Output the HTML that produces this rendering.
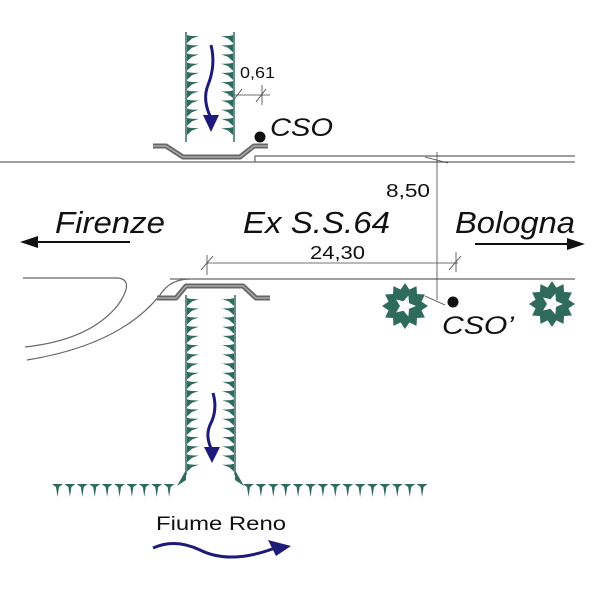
<!DOCTYPE html>
<html><head><style>body{margin:0;background:#fff}svg{display:block}</style></head><body>
<svg width="600" height="600" xmlns="http://www.w3.org/2000/svg" font-family="Liberation Sans, sans-serif">
<g fill="none" stroke="#666" stroke-width="1.2">
<line x1="0" y1="162" x2="575" y2="162"/>
<polyline points="255,162 255,156 575,156"/>
<line x1="170" y1="279" x2="575" y2="279"/>
<path d="M23,278 L118,278 Q135,280 118,305 Q90,340 25,347"/>
<path d="M190,279 Q170,279 160,295 Q120,345 27,360"/>
</g>
<g stroke="#444" stroke-width="0.8" fill="none">
<line x1="437" y1="152" x2="437" y2="300"/>
<line x1="207" y1="263" x2="458" y2="263"/>
<line x1="207" y1="255" x2="207" y2="275"/>
<line x1="456" y1="252" x2="456" y2="272"/>
<line x1="201" y1="270" x2="213" y2="256"/><line x1="449" y1="270" x2="461" y2="256"/>
<line x1="425" y1="157" x2="448" y2="163"/>
<line x1="425" y1="296" x2="445" y2="305"/>
<line x1="228" y1="95" x2="270" y2="95"/>
<line x1="262" y1="85" x2="262" y2="105"/>
<line x1="232" y1="102" x2="242" y2="89"/><line x1="256" y1="102" x2="266" y2="89"/>
</g>
<g fill="none" stroke-linejoin="round">
<polyline points="153,146 166,146 183,157 240,157 254,146 268,146" stroke="#666" stroke-width="5"/>
<polyline points="153,146 166,146 183,157 240,157 254,146 268,146" stroke="#aaa" stroke-width="1.5"/>
<polyline points="157,298 176,298 186,286 243,286 256,298 270,298" stroke="#666" stroke-width="5"/>
<polyline points="157,298 176,298 186,286 243,286 256,298 270,298" stroke="#aaa" stroke-width="1.5"/>
</g>
<g stroke="#2e6b5c" stroke-width="1.5">
<line x1="186" y1="32" x2="186" y2="142"/><line x1="234" y1="32" x2="234" y2="142"/>
<line x1="186" y1="295" x2="186" y2="475"/><line x1="235" y1="295" x2="235" y2="475"/>
</g>
<g fill="#2e6b5c" id="teeth"></g>
<g fill="none" stroke="#1e1a7a" stroke-width="3">
<path d="M211,45 Q216,65 208,85 Q202,100 211,118"/>
<path d="M213,393 Q218,410 210,425 Q205,437 212,450"/>
<path d="M153,548 Q175,538 200,550 Q230,565 275,548"/>
</g>
<g fill="#1e1a7a">
<path d="M203,115 L219,115 L211,132 Z"/>
<path d="M204,447 L220,447 L212,463 Z"/>
<path d="M268,540 L291,546 L276,556 Z"/>
</g>
<g fill="#111">
<path d="M130,241 L38,241 L38,236 L20,242 L38,248 L38,243 L130,243 Z"/>
<path d="M475,243 L567,243 L567,238 L585,244 L567,250 L567,245 L475,245 Z"/>
<circle cx="260" cy="137" r="5.5"/><circle cx="453" cy="302" r="5.5"/>
</g>
<g id="bushes"></g>
<g fill="#111" font-style="italic">
<text x="55" y="233" font-size="31" textLength="110" lengthAdjust="spacingAndGlyphs">Firenze</text>
<text x="243" y="233" font-size="31" textLength="147" lengthAdjust="spacingAndGlyphs">Ex S.S.64</text>
<text x="455" y="233" font-size="31" textLength="120" lengthAdjust="spacingAndGlyphs">Bologna</text>
<text x="270" y="136" font-size="25" textLength="63" lengthAdjust="spacingAndGlyphs">CSO</text>
<text x="442" y="334" font-size="25" textLength="72" lengthAdjust="spacingAndGlyphs">CSO’</text>
</g>
<g fill="#111" font-size="18">
<text x="386" y="197" textLength="44" lengthAdjust="spacingAndGlyphs">8,50</text>
<text x="310" y="259" textLength="55" lengthAdjust="spacingAndGlyphs">24,30</text>
<text x="240" y="78" font-size="16" textLength="35" lengthAdjust="spacingAndGlyphs">0,61</text>
<text x="156" y="530" font-size="19" textLength="130" lengthAdjust="spacingAndGlyphs">Fiume Reno</text>
</g>
<script>
(function(){
var ns="http://www.w3.org/2000/svg",g=document.getElementById("teeth"),d="";
function vert(x,dir,y0,y1){for(var y=y0;y<=y1;y+=9.2){d+="M"+x+","+(y)+" Q"+(x+dir*4)+","+(y+1.5)+" "+(x+dir*12)+","+(y+1)+" L"+(x+dir*5)+","+(y+3.5)+" L"+x+","+(y+8)+"Z ";}}
vert(187,1,35,133);vert(233,-1,35,133);vert(187,1,298,465);vert(234,-1,298,465);
function hor(x0,x1){for(var x=x0;x<=x1;x+=12.4){d+="M"+x+",484 L"+(x+11)+",484 L"+(x+7)+",487 L"+(x+5.5)+",497 L"+(x+4)+",487 Z ";}}
hor(52,170);hor(243,420);
d+="M186,470 L186,480 L177,486 Z M235,470 L235,480 L244,486 Z";
var p=document.createElementNS(ns,"path");p.setAttribute("d",d);g.appendChild(p);
var b=document.getElementById("bushes");
[[405,306],[552,304]].forEach(function(c){
 var s="";for(var i=0;i<24;i++){var a=i*Math.PI/12,r=(i%2?17:23);s+=(i?"L":"M")+(c[0]+r*Math.cos(a)).toFixed(1)+","+(c[1]+r*Math.sin(a)).toFixed(1);}
 var q=document.createElementNS(ns,"path");q.setAttribute("d",s+"Z");q.setAttribute("fill","#2e6b5c");b.appendChild(q);
 var w="";for(var i=0;i<10;i++){var a=i*Math.PI/5,r=(i%2?5:11);w+=(i?"L":"M")+(c[0]+r*Math.cos(a)).toFixed(1)+","+(c[1]+r*Math.sin(a)).toFixed(1);}
 var q2=document.createElementNS(ns,"path");q2.setAttribute("d",w+"Z");q2.setAttribute("fill","#fff");b.appendChild(q2);
});
})();
</script>
</svg>
</body></html>
